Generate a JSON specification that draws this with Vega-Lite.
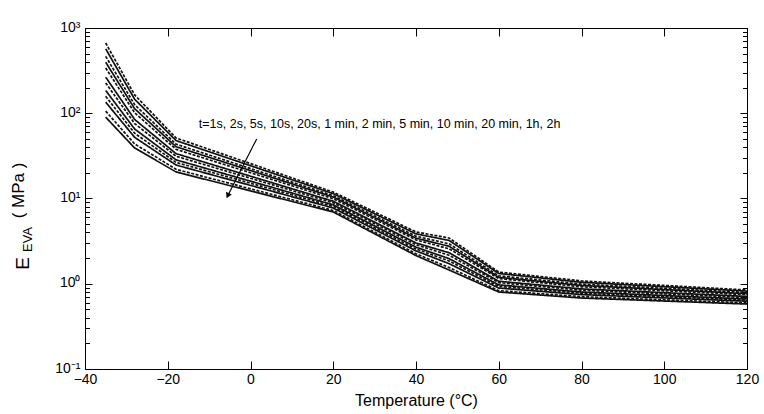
{
  "$schema": "https://vega.github.io/schema/vega-lite/v6.json",
  "width": 662,
  "height": 341,
  "autosize": "none",
  "padding": {"left": 85, "top": 28, "right": 17, "bottom": 45},
  "config": {
    "view": {"stroke": "black", "strokeWidth": 1},
    "font": "Liberation Sans",
    "axis": {"domainColor": "black", "tickColor": "black", "labelColor": "black", "titleColor": "black", "grid": false, "labelFont": "Liberation Sans", "titleFont": "Liberation Sans", "titleFontWeight": "normal"}
  },
  "datasets": {
    "curves": [
      {"T": -35, "t": "1s", "E": 667}, {"T": -28, "t": "1s", "E": 164}, {"T": -18, "t": "1s", "E": 51.3}, {"T": 20, "t": "1s", "E": 11.9}, {"T": 40, "t": "1s", "E": 4.05}, {"T": 48, "t": "1s", "E": 3.44}, {"T": 60, "t": "1s", "E": 1.37}, {"T": 80, "t": "1s", "E": 1.08}, {"T": 120, "t": "1s", "E": 0.845},
      {"T": -35, "t": "2s", "E": 570}, {"T": -28, "t": "2s", "E": 146}, {"T": -18, "t": "2s", "E": 47.8}, {"T": 20, "t": "2s", "E": 11.4}, {"T": 40, "t": "2s", "E": 3.85}, {"T": 48, "t": "2s", "E": 3.22}, {"T": 60, "t": "2s", "E": 1.32}, {"T": 80, "t": "2s", "E": 1.04}, {"T": 120, "t": "2s", "E": 0.82},
      {"T": -35, "t": "5s", "E": 465}, {"T": -28, "t": "5s", "E": 126}, {"T": -18, "t": "5s", "E": 43.4}, {"T": 20, "t": "5s", "E": 10.8}, {"T": 40, "t": "5s", "E": 3.61}, {"T": 48, "t": "5s", "E": 2.94}, {"T": 60, "t": "5s", "E": 1.24}, {"T": 80, "t": "5s", "E": 0.99}, {"T": 120, "t": "5s", "E": 0.79},
      {"T": -35, "t": "10s", "E": 397}, {"T": -28, "t": "10s", "E": 113}, {"T": -18, "t": "10s", "E": 40.5}, {"T": 20, "t": "10s", "E": 10.4}, {"T": 40, "t": "10s", "E": 3.43}, {"T": 48, "t": "10s", "E": 2.75}, {"T": 60, "t": "10s", "E": 1.19}, {"T": 80, "t": "10s", "E": 0.955}, {"T": 120, "t": "10s", "E": 0.766},
      {"T": -35, "t": "20s", "E": 340}, {"T": -28, "t": "20s", "E": 101}, {"T": -18, "t": "20s", "E": 37.7}, {"T": 20, "t": "20s", "E": 9.93}, {"T": 40, "t": "20s", "E": 3.27}, {"T": 48, "t": "20s", "E": 2.57}, {"T": 60, "t": "20s", "E": 1.15}, {"T": 80, "t": "20s", "E": 0.92}, {"T": 120, "t": "20s", "E": 0.743},
      {"T": -35, "t": "1min", "E": 265}, {"T": -28, "t": "1min", "E": 84.5}, {"T": -18, "t": "1min", "E": 33.6}, {"T": 20, "t": "1min", "E": 9.29}, {"T": 40, "t": "1min", "E": 3.01}, {"T": 48, "t": "1min", "E": 2.31}, {"T": 60, "t": "1min", "E": 1.07}, {"T": 80, "t": "1min", "E": 0.87}, {"T": 120, "t": "1min", "E": 0.71},
      {"T": -35, "t": "2min", "E": 227}, {"T": -28, "t": "2min", "E": 75.7}, {"T": -18, "t": "2min", "E": 31.3}, {"T": 20, "t": "2min", "E": 8.91}, {"T": 40, "t": "2min", "E": 2.87}, {"T": 48, "t": "2min", "E": 2.16}, {"T": 60, "t": "2min", "E": 1.03}, {"T": 80, "t": "2min", "E": 0.84}, {"T": 120, "t": "2min", "E": 0.689},
      {"T": -35, "t": "5min", "E": 185}, {"T": -28, "t": "5min", "E": 65.3}, {"T": -18, "t": "5min", "E": 28.4}, {"T": 20, "t": "5min", "E": 8.43}, {"T": 40, "t": "5min", "E": 2.69}, {"T": 48, "t": "5min", "E": 1.97}, {"T": 60, "t": "5min", "E": 0.97}, {"T": 80, "t": "5min", "E": 0.8}, {"T": 120, "t": "5min", "E": 0.662},
      {"T": -35, "t": "10min", "E": 158}, {"T": -28, "t": "10min", "E": 58.3}, {"T": -18, "t": "10min", "E": 26.5}, {"T": 20, "t": "10min", "E": 8.09}, {"T": 40, "t": "10min", "E": 2.56}, {"T": 48, "t": "10min", "E": 1.85}, {"T": 60, "t": "10min", "E": 0.93}, {"T": 80, "t": "10min", "E": 0.775}, {"T": 120, "t": "10min", "E": 0.643},
      {"T": -35, "t": "20min", "E": 135}, {"T": -28, "t": "20min", "E": 52.2}, {"T": -18, "t": "20min", "E": 24.7}, {"T": 20, "t": "20min", "E": 7.74}, {"T": 40, "t": "20min", "E": 2.43}, {"T": 48, "t": "20min", "E": 1.72}, {"T": 60, "t": "20min", "E": 0.89}, {"T": 80, "t": "20min", "E": 0.746}, {"T": 120, "t": "20min", "E": 0.624},
      {"T": -35, "t": "1h", "E": 106}, {"T": -28, "t": "1h", "E": 43.7}, {"T": -18, "t": "1h", "E": 22.0}, {"T": 20, "t": "1h", "E": 7.24}, {"T": 40, "t": "1h", "E": 2.25}, {"T": 48, "t": "1h", "E": 1.55}, {"T": 60, "t": "1h", "E": 0.83}, {"T": 80, "t": "1h", "E": 0.706}, {"T": 120, "t": "1h", "E": 0.596},
      {"T": -35, "t": "2h", "E": 90}, {"T": -28, "t": "2h", "E": 39.1}, {"T": -18, "t": "2h", "E": 20.5}, {"T": 20, "t": "2h", "E": 6.95}, {"T": 40, "t": "2h", "E": 2.14}, {"T": 48, "t": "2h", "E": 1.45}, {"T": 60, "t": "2h", "E": 0.8}, {"T": 80, "t": "2h", "E": 0.68}, {"T": 120, "t": "2h", "E": 0.578}
    ],
    "arrow": [{"T1": 1.5, "E1": 50, "T2": -5.5, "E2": 10.8}],
    "label": [{"T": -12.5, "E": 74, "text": "t=1s, 2s, 5s, 10s, 20s, 1 min, 2 min, 5 min, 10 min, 20 min, 1h, 2h"}],
    "anchor": [{"T": -40, "E": 10}]
  },
  "resolve": {"axis": {"x": "independent", "y": "independent"}},
  "layer": [
    {
      "data": {"name": "curves"},
      "mark": {"type": "line", "strokeWidth": 1.7, "color": "#111", "clip": true},
      "encoding": {
        "x": {"field": "T", "type": "quantitative", "scale": {"domain": [-40, 120], "nice": false, "zero": false},
              "axis": {"orient": "top", "offset": -341, "values": [-40, -20, 0, 20, 40, 60, 80, 100, 120], "labelExpr": "replace(datum.label, '-', '\u2212')", "tickSize": 8, "labelPadding": -11, "labelBaseline": "top", "labelFlush": false, "labelFontSize": 14,
                       "title": "Temperature (°C)", "titleFontSize": 16, "titleY": 31, "titleBaseline": "middle", "domain": true}},
        "y": {"field": "E", "type": "quantitative", "scale": {"type": "log", "domain": [0.1, 1000], "nice": false},
              "axis": {"orient": "right", "offset": -662, "values": [0.1, 0.2, 0.3, 0.4, 0.5, 0.6, 0.7, 0.8, 0.9, 1, 2, 3, 4, 5, 6, 7, 8, 9, 10, 20, 30, 40, 50, 60, 70, 80, 90, 100, 200, 300, 400, 500, 600, 700, 800, 900, 1000],
                       "labelExpr": "datum.value == 1000 ? '10³' : datum.value == 100 ? '10²' : datum.value == 10 ? '10¹' : datum.value == 1 ? '10⁰' : datum.value == 0.1 ? '10⁻¹' : ''",
                       "tickSize": {"condition": {"test": "abs(log(datum.value)/LN10 - round(log(datum.value)/LN10)) < 0.001", "value": 7}, "value": 4.5},
                       "labelPadding": -12, "labelAlign": "right", "labelFlush": false, "labelFontSize": 14, "labelBaseline": "middle", "labelOffset": -1, "title": null, "domain": true}},
        "detail": {"field": "t", "type": "nominal"},
        "strokeDash": {"field": "t", "type": "nominal", "legend": null, "sort": null,
                       "scale": {"domain": ["1s", "2s", "5s", "10s", "20s", "1min", "2min", "5min", "10min", "20min", "1h", "2h"],
                                 "range": [[3, 1.5], [1, 0], [3, 1.5], [1, 0], [3, 1.5], [1, 0], [3, 1.5], [1, 0], [3, 1.5], [1, 0], [3, 1.5], [1, 0]]}}
      }
    },
    {
      "data": {"name": "curves"},
      "mark": {"type": "line", "opacity": 0},
      "encoding": {
        "x": {"field": "T", "type": "quantitative", "axis": {"orient": "bottom", "offset": -341, "values": [-40, -20, 0, 20, 40, 60, 80, 100, 120], "labelExpr": "''", "tickSize": 8, "title": null, "domain": true}},
        "y": {"field": "E", "type": "quantitative", "axis": {"orient": "left", "offset": -662, "values": [0.1, 0.2, 0.3, 0.4, 0.5, 0.6, 0.7, 0.8, 0.9, 1, 2, 3, 4, 5, 6, 7, 8, 9, 10, 20, 30, 40, 50, 60, 70, 80, 90, 100, 200, 300, 400, 500, 600, 700, 800, 900, 1000], "labelExpr": "''",
                 "tickSize": {"condition": {"test": "abs(log(datum.value)/LN10 - round(log(datum.value)/LN10)) < 0.001", "value": 7}, "value": 4.5}, "title": null, "domain": true}}
      }
    },
    {
      "data": {"name": "arrow"},
      "mark": {"type": "rule", "color": "black", "strokeWidth": 1.2},
      "encoding": {
        "x": {"field": "T1", "type": "quantitative", "axis": null},
        "y": {"field": "E1", "type": "quantitative", "axis": null},
        "x2": {"field": "T2"},
        "y2": {"field": "E2"}
      }
    },
    {
      "data": {"name": "arrow"},
      "mark": {"type": "point", "shape": "triangle-down", "filled": true, "color": "black", "size": 40, "angle": 25, "opacity": 1},
      "encoding": {
        "x": {"field": "T2", "type": "quantitative", "axis": null},
        "y": {"field": "E2", "type": "quantitative", "axis": null}
      }
    },
    {
      "data": {"name": "label"},
      "mark": {"type": "text", "align": "left", "baseline": "middle", "fontSize": 12.5, "color": "black"},
      "encoding": {
        "x": {"field": "T", "type": "quantitative", "axis": null},
        "y": {"field": "E", "type": "quantitative", "axis": null},
        "text": {"field": "text"}
      }
    },
    {
      "data": {"name": "anchor"},
      "mark": {"type": "text", "text": "E", "angle": 270, "align": "center", "baseline": "middle", "fontSize": 19, "dx": -65, "dy": -62, "color": "black"},
      "encoding": {"x": {"field": "T", "type": "quantitative", "axis": null}, "y": {"field": "E", "type": "quantitative", "axis": null}}
    },
    {
      "data": {"name": "anchor"},
      "mark": {"type": "text", "text": "EVA", "angle": 270, "align": "center", "baseline": "middle", "fontSize": 13, "dx": -41, "dy": -57, "color": "black"},
      "encoding": {"x": {"field": "T", "type": "quantitative", "axis": null}, "y": {"field": "E", "type": "quantitative", "axis": null}}
    },
    {
      "data": {"name": "anchor"},
      "mark": {"type": "text", "text": "( MPa )", "angle": 270, "align": "center", "baseline": "middle", "fontSize": 17, "dx": 8, "dy": -66, "color": "black"},
      "encoding": {"x": {"field": "T", "type": "quantitative", "axis": null}, "y": {"field": "E", "type": "quantitative", "axis": null}}
    }
  ]
}
